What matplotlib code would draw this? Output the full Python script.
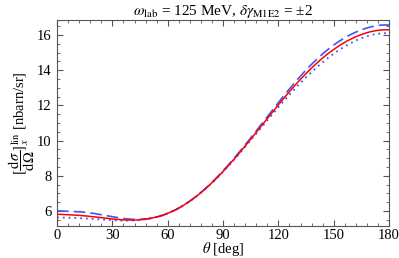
import numpy as np
import matplotlib
matplotlib.use("Agg")
import matplotlib.pyplot as plt
from matplotlib.ticker import MultipleLocator

plt.rcParams["font.family"] = ["Liberation Serif", "DejaVu Serif"]
plt.rcParams["mathtext.fontset"] = "stix"

theta = [0, 10, 20, 30, 40, 50, 60, 70, 80, 90, 100, 110, 120, 130, 140, 150, 160, 170, 180]
red_solid = [5.82, 5.76, 5.68, 5.56, 5.48, 5.55, 5.88, 6.45, 7.25, 8.17, 9.47, 10.75,
             12.05, 13.25, 14.3, 15.2, 15.82, 16.18, 16.3]
blue_dashed = [6.02, 5.97, 5.86, 5.70, 5.52, 5.55, 5.87, 6.45, 7.27, 8.2, 9.52, 10.85,
               12.18, 13.42, 14.52, 15.45, 16.08, 16.45, 16.57]
blue_dotted = [5.63, 5.6, 5.55, 5.49, 5.45, 5.55, 5.88, 6.45, 7.24, 8.15, 9.42, 10.68,
               11.92, 13.05, 14.07, 14.95, 15.6, 15.98, 16.1]

# smooth the read-off points for drawing
def smooth(x, y):
    xs = np.linspace(0, 180, 361)
    c = np.polyfit(x, y, 9)
    return xs, np.polyval(c, xs)

fig = plt.figure(figsize=(3.99, 2.58), dpi=100)
ax = fig.add_axes([0.143, 0.124, 0.832, 0.798])

blue = "#4055f5"
ax.plot(*smooth(theta, blue_dashed), color=blue, lw=1.2, dashes=(7, 3))
ax.plot(*smooth(theta, blue_dotted), color=blue, lw=1.3, dashes=(1, 2.2))
ax.plot(*smooth(theta, red_solid), color="red", lw=1.1)

ax.set_xlim(0, 180)
ax.set_ylim(5.15, 16.85)
ax.xaxis.set_major_locator(MultipleLocator(30))
ax.xaxis.set_minor_locator(MultipleLocator(6))
ax.yaxis.set_major_locator(MultipleLocator(2))
ax.yaxis.set_minor_locator(MultipleLocator(0.5))
ax.tick_params(which="both", direction="in", top=True, right=True, color="#555555",
               labelsize=10.5)
ax.tick_params(axis="x", pad=2)
ax.tick_params(axis="y", pad=4)
ax.tick_params(which="major", length=4)
ax.tick_params(which="minor", length=2)
for s in ax.spines.values():
    s.set_color("#555555")
    s.set_linewidth(0.8)

ax.set_xlabel(r"$\theta$ [deg]", fontsize=10.5, labelpad=-1)
ax.set_ylabel(r"$[\dfrac{\mathrm{d}\sigma}{\mathrm{d}\Omega}]_x^{\mathrm{lin}}$ [nbarn/sr]",
              fontsize=10.5, labelpad=0)
ax.set_title(r"$\omega_{\mathrm{lab}}$ = 125 MeV, $\delta\gamma_{\mathrm{M1E2}}$ = ±2",
             fontsize=11, pad=3)

fig.savefig("out.png", dpi=100)
